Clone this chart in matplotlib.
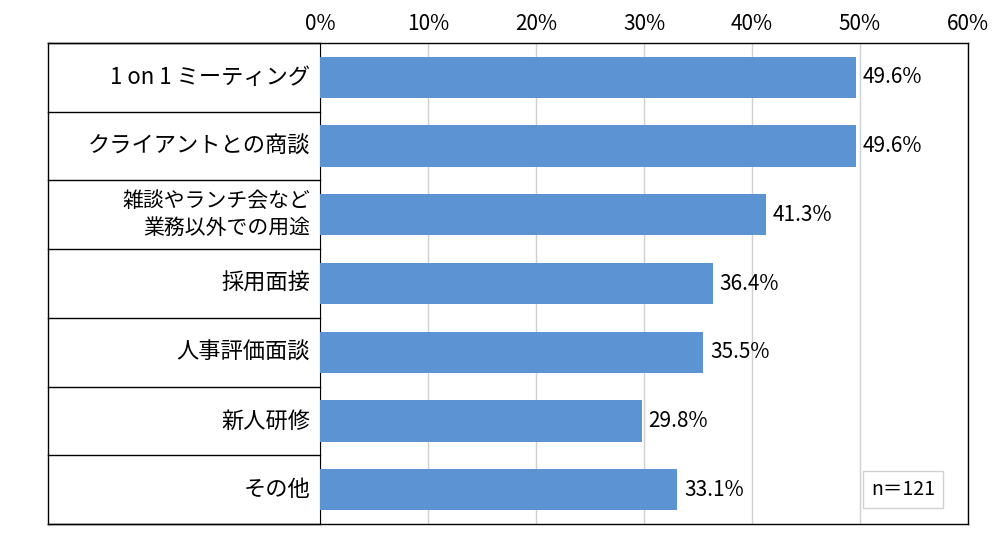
import matplotlib
matplotlib.use("Agg")
import matplotlib.pyplot as plt
from matplotlib.lines import Line2D

plt.rcParams['font.family'] = ['Noto Sans CJK JP', 'DejaVu Sans']

categories = ["1 on 1 ミーティング", "クライアントとの商談", "雑談やランチ会など\n業務以外での用途",
              "採用面接", "人事評価面談", "新人研修", "その他"]
values = [49.6, 49.6, 41.3, 36.4, 35.5, 29.8, 33.1]
ticks = [0, 10, 20, 30, 40, 50, 60]

fig = plt.figure(figsize=(10, 5.38), dpi=100)
ax = fig.add_axes([0.32, 0.026, 0.648, 0.894])
n = len(categories)
ypos = list(range(n))
ax.barh(ypos, values, height=0.6, color='#5B93D3', zorder=3)
ax.set_ylim(n - 0.5, -0.5)
ax.set_xlim(0, 60)
ax.set_xticks(ticks)
ax.set_xticklabels([f"{t}%" for t in ticks], fontsize=15)
ax.xaxis.tick_top()
ax.tick_params(axis='x', length=0, pad=6)
ax.set_yticks([])
ax.grid(axis='x', color='#d0d0d0', linewidth=1, zorder=0)
for s in ['top', 'right', 'bottom']:
    ax.spines[s].set_visible(False)
ax.spines['left'].set_color('black')

for y, v in zip(ypos, values):
    ax.text(v + 0.6, y, f"{v}%", va='center', ha='left', fontsize=15)

# left table
x0 = -(320 - 48) / 648
for i in range(n + 1):
    yy = 1 - i / n
    ax.add_line(Line2D([x0, 0], [yy, yy], transform=ax.transAxes, color='black', lw=1, clip_on=False))
ax.add_line(Line2D([x0, x0], [0, 1], transform=ax.transAxes, color='black', lw=1, clip_on=False))
ax.add_line(Line2D([x0, 1], [0, 0], transform=ax.transAxes, color='black', lw=1, clip_on=False))
ax.add_line(Line2D([x0, 1], [1, 1], transform=ax.transAxes, color='black', lw=1, clip_on=False))
ax.add_line(Line2D([1, 1], [0, 1], transform=ax.transAxes, color='black', lw=1, clip_on=False))
for i, c in enumerate(categories):
    yy = 1 - (i + 0.5) / n
    fs = 15 if "\n" in c else 16
    ax.text(-10 / 648, yy, c, transform=ax.transAxes, ha='right', va='center',
            fontsize=fs, linespacing=1.3)

ax.text(0.9, 0.5 / n, "n＝121", transform=ax.transAxes, ha='center', va='center', fontsize=14,
        bbox=dict(boxstyle='square,pad=0.4', fc='white', ec='#d0d0d0'), zorder=5)

fig.savefig("out.png", dpi=100)
